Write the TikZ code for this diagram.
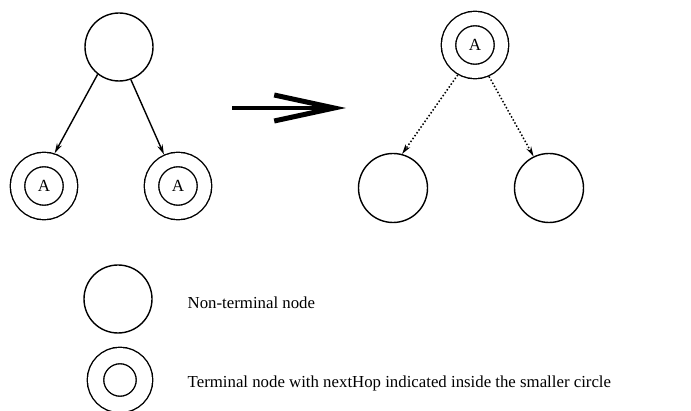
\documentclass[tikz,border=0pt]{standalone}
\usetikzlibrary{arrows.meta, positioning}
\usepackage{fontspec}
\setmainfont{Liberation Serif}
\def\gapsep{13pt}

\begin{document}
\begin{tikzpicture}[x=1pt,y=-1pt,line width=1.4pt,>={Stealth[length=10pt,width=5.5pt]}]
    \tikzstyle{plain node}=[circle,draw=black,minimum size=68pt,inner sep=0pt]
    \tikzstyle{term node}=[circle,draw=black,double,double distance=\gapsep,minimum size=53pt,
        inner sep=0pt,outer sep=8pt,font=\fontsize{17}{17}\selectfont]
    \tikzstyle{annot}=[anchor=west,inner sep=0pt,font=\fontsize{16.8}{20}\selectfont]

    \useasboundingbox (0,0) rectangle (691,411);

    % Left tree: plain root, terminal leaves
    \node[plain node] (L-root) at (119,47) {};
    \foreach \name / \x in {1/44,2/178}
        \node[term node] (L-\name) at (\x,186) {A};

    \draw[->] (L-root.232) -- (L-1.72);
    \draw[->] (L-root.290) -- (L-2.114);

    % Big transformation arrow
    \coordinate (arr-s) at (232,108);
    \coordinate (arr-e) at (346,108);
    \draw[line width=4.5pt,-{Straight Barb[length=60pt,width=26pt,line width=5pt]}] (arr-s) -- (arr-e);

    % Right tree: terminal root, plain leaves
    \node[term node] (R-root) at (475,45) {A};
    \foreach \name / \x in {1/393,2/549}
        \node[plain node,minimum size=69pt] (R-\name) at (\x,188) {};

    \draw[->,dotted,line width=1.5pt] (R-root.240) -- (R-1.75);
    \draw[->,dotted,line width=1.5pt] (R-root.294) -- (R-2.116);

    % Legend
    \node[plain node] (K-plain) at (118,299) {};
    \node[term node,double distance=15pt,minimum size=49pt] (K-term) at (120,380) {};
    \node[annot] (K-plain-txt) at (187,303) {Non-terminal node};
    \node[annot] (K-term-txt) at (187,383) {Terminal node with nextHop indicated inside the smaller circle};
\end{tikzpicture}
\end{document}
